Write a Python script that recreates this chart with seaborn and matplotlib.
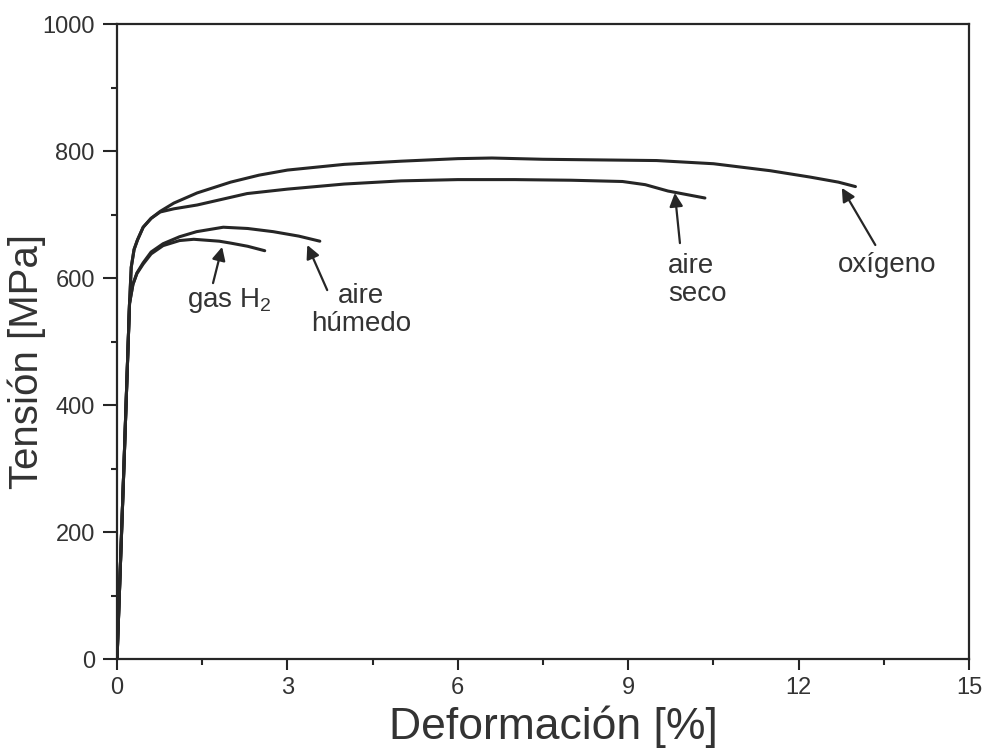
import matplotlib
matplotlib.use("Agg")
import matplotlib.pyplot as plt
import seaborn as sns
import pandas as pd

# Stress-strain curves (strain in %, stress in MPa) for each test environment
oxigeno_strain = [0, 0.12, 0.22, 0.25, 0.30, 0.36, 0.46, 0.6, 0.76, 1.0, 1.41, 2.0, 2.5,
                  3.0, 4.0, 5.0, 6.0, 6.6, 7.5, 8.5, 9.5, 10.5, 11.5, 12.2, 12.7, 13.0]
oxigeno_stress = [0, 300, 560, 617, 645, 660, 680, 694, 705, 718, 734, 751, 762,
                  770, 779, 784, 788, 789, 787, 786, 785, 780, 769, 759, 751, 744]

seco_strain = [0, 0.12, 0.22, 0.25, 0.30, 0.36, 0.46, 0.6, 0.76, 1.0, 1.41, 2.29, 3.0,
               4.0, 5.0, 6.0, 7.0, 8.0, 8.9, 9.3, 9.7, 10.35]
seco_stress = [0, 300, 560, 617, 645, 660, 680, 694, 704, 709, 715, 733, 740,
               748, 753, 755, 755, 754, 752, 747, 737, 726]

humedo_strain = [0, 0.12, 0.22, 0.28, 0.35, 0.46, 0.6, 0.81, 1.1, 1.4, 1.87, 2.3, 2.75,
                 3.2, 3.57]
humedo_stress = [0, 300, 560, 590, 608, 624, 641, 654, 665, 673, 680, 678, 673,
                 666, 658]

h2_strain = [0, 0.12, 0.22, 0.28, 0.35, 0.46, 0.6, 0.81, 1.1, 1.35, 1.8, 2.0, 2.3, 2.6]
h2_stress = [0, 300, 560, 590, 607, 622, 638, 651, 659, 661, 658, 655, 650, 643]

x_ticks = [0, 3, 6, 9, 12, 15]
y_ticks = [0, 200, 400, 600, 800, 1000]

sns.set_theme(style="ticks")
plt.rcParams["font.family"] = ["Liberation Sans", "DejaVu Sans"]
plt.rcParams["mathtext.fontset"] = "custom"
plt.rcParams["mathtext.rm"] = "Liberation Sans"

curves = {
    "oxígeno": (oxigeno_strain, oxigeno_stress),
    "aire seco": (seco_strain, seco_stress),
    "aire húmedo": (humedo_strain, humedo_stress),
    "gas H2": (h2_strain, h2_stress),
}
df = pd.concat(
    [pd.DataFrame({"strain": s, "stress": t, "medio": name})
     for name, (s, t) in curves.items()],
    ignore_index=True,
)

ink = "#262626"
fig = plt.figure(figsize=(9.86, 7.51), dpi=100)
ax = fig.add_axes([0.1187, 0.1225, 0.8641, 0.8455])

sns.lineplot(data=df, x="strain", y="stress", units="medio", estimator=None,
             sort=False, color=ink, linewidth=2.2, ax=ax, legend=False)

ax.set_xlim(0, 15)
ax.set_ylim(0, 1000)
ax.set_xticks(x_ticks)
ax.set_yticks(y_ticks)
ax.set_xticks([1.5, 4.5, 7.5, 10.5, 13.5], minor=True)
ax.set_yticks([100, 300, 500, 700, 900], minor=True)
ax.tick_params(which="major", direction="out", length=8, width=1.5, color=ink,
               labelsize=17, labelcolor="#333333")
ax.tick_params(axis="x", which="major", pad=5)
ax.tick_params(axis="y", which="major", length=10, pad=6)
ax.tick_params(which="minor", direction="out", length=4, width=1.5, color=ink)
for side in ["top", "right", "left", "bottom"]:
    ax.spines[side].set_visible(True)
    ax.spines[side].set_linewidth(1.6)
    ax.spines[side].set_color(ink)

ax.set_xlabel("Deformación [%]", fontsize=32, color="#333333")
ax.set_ylabel("Tensión [MPa]", fontsize=29, color="#333333")
ax.xaxis.set_label_coords(0.512, -0.107)
ax.yaxis.set_label_coords(-0.106, 0.468)
ax.xaxis.label.set_va("center")
ax.yaxis.label.set_va("center")

arrow = dict(arrowstyle="-|>", color=ink, lw=1.6, mutation_scale=20,
             shrinkA=0, shrinkB=0)
label_kw = dict(fontsize=20, color="#333333")

ax.annotate("", xy=(1.85, 649), xytext=(1.69, 592), arrowprops=arrow)
ax.text(1.97, 564, "gas H$_2$", ha="center", va="center", **label_kw)

ax.annotate("", xy=(3.35, 652), xytext=(3.70, 581), arrowprops=arrow)
ax.text(4.3, 592, "aire\nhúmedo", ha="center", va="top", multialignment="center",
        linespacing=1.1, **label_kw)

ax.annotate("", xy=(9.82, 734), xytext=(9.91, 655), arrowprops=arrow)
ax.text(9.70, 640, "aire\nseco", ha="left", va="top", linespacing=1.1, **label_kw)

ax.annotate("", xy=(12.76, 742), xytext=(13.35, 652), arrowprops=arrow)
ax.text(13.56, 620, "oxígeno", ha="center", va="center", **label_kw)

fig.savefig("out.png", dpi=100, facecolor="white")
